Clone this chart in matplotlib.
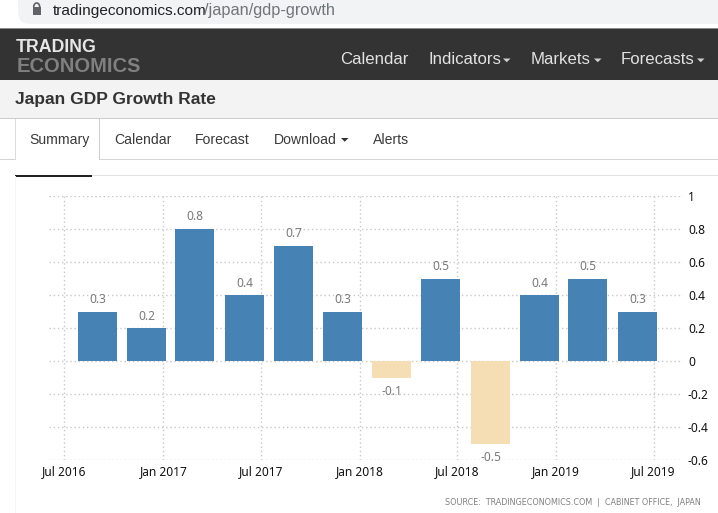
import matplotlib
matplotlib.use("Agg")
import matplotlib.pyplot as plt
import matplotlib.dates as mdates
from matplotlib.patches import Rectangle, FancyBboxPatch, Polygon, Arc
from datetime import date

W, H = 718, 513
quarters = [date(2016,9,1), date(2016,12,1), date(2017,3,1), date(2017,6,1),
            date(2017,9,1), date(2017,12,1), date(2018,3,1), date(2018,6,1),
            date(2018,9,1), date(2018,12,1), date(2019,3,1), date(2019,6,1)]
growth = [0.3, 0.2, 0.8, 0.4, 0.7, 0.3, -0.1, 0.5, -0.5, 0.4, 0.5, 0.3]
x_ticks = [date(2016,7,1), date(2017,1,1), date(2017,7,1), date(2018,1,1),
           date(2018,7,1), date(2019,1,1), date(2019,7,1)]
x_labels = ["Jul 2016", "Jan 2017", "Jul 2017", "Jan 2018", "Jul 2018", "Jan 2019", "Jul 2019"]
y_ticks = [-0.6, -0.4, -0.2, 0, 0.2, 0.4, 0.6, 0.8, 1]
y_labels = ["-0.6", "-0.4", "-0.2", "0", "0.2", "0.4", "0.6", "0.8", "1"]
nav_items = ["Calendar", "Indicators", "Markets", "Forecasts"]
tab_items = ["Summary", "Calendar", "Forecast", "Download", "Alerts"]

SANS = "Liberation Sans"
CHART = "Noto Sans"
fig = plt.figure(figsize=(W/100, H/100), dpi=100, facecolor="white")

# page chrome in pixel coordinates
bg = fig.add_axes([0, 0, 1, 1], zorder=0)
bg.set_xlim(0, W); bg.set_ylim(H, 0); bg.axis("off")
def rect(x, y, w, h, c):
    bg.add_patch(Rectangle((x, y), w, h, fc=c, ec="none"))
def txt(x, y, s, size, c, **k):
    bg.text(x, y, s, fontsize=size*0.72, color=c, va="baseline",
            family=k.pop("family", SANS), **k)
def caret(x, y, w, c):
    bg.add_patch(Polygon([(x, y), (x+w, y), (x+w/2, y+w/2)], fc=c, ec="none"))

bg.add_patch(FancyBboxPatch((18, -20), 800, 44, boxstyle="round,pad=0,rounding_size=12",
                            fc="#f1f3f4", ec="none"))
rect(32.5, 7, 8.5, 8, "#5f6368")
bg.add_patch(Arc((36.7, 7), 6, 8, theta1=180, theta2=360, ec="#5f6368", lw=1.2))
txt(52.5, 15, "tradingeconomics.com", 15.4, "#202124")
txt(204.5, 15, "/japan/gdp-growth", 16.4, "#70757a")
rect(0, 28, W, 52, "#333333")
rect(0, 28, W, 1, "#8a8a8a")
txt(15.5, 52.5, "TRADING", 17.7, "#e6e6e6", fontweight="bold")
txt(16.5, 72.5, "ECONOMICS", 20.2, "#808080", fontweight="bold")
for s, x in zip(nav_items, [340.5, 428.5, 531, 621]):
    txt(x, 64, s, 16.7, "#e2e2e2")
for x in [503, 594, 697]:
    caret(x, 58.5, 7.5, "#d0d0d0")
rect(0, 80, W, 38, "#f3f3f3")
rect(0, 118, W, 1.3, "#cccccc")
txt(15, 104, "Japan GDP Growth Rate", 17.4, "#333333", fontweight="bold")
rect(0, 159, W, 1.2, "#d5d5d5")
rect(15.5, 119, 84, 41.5, "white")
rect(15, 119, 1, 41, "#dddddd")
rect(99, 119, 1, 41, "#cccccc")
for s, x in zip(tab_items, [29.5, 114.5, 195, 273.5, 372.5]):
    txt(x, 144, s, 14, "#3a3a3a")
caret(341, 138, 7.5, "#333333")
rect(15, 175, W-15, 1, "#e2e2e2")
rect(15, 174.5, 77, 2, "#222222")
rect(14.5, 176, 1, H-176, "#f5f5f5")
txt(701, 505, "SOURCE:  TRADINGECONOMICS.COM  |  CABINET OFFICE,  JAPAN", 7.95, "#808080",
    ha="right", family="DejaVu Sans")

# chart
x0, x1 = 49, 683
ytop, ybot = 196.0, 460.2
ax = fig.add_axes([x0/W, 1-ybot/H, (x1-x0)/W, (ybot-ytop)/H], zorder=1)
ax.patch.set_alpha(0)
d0 = mdates.date2num(date(2016,7,1))
px_per_day = (653.5-64.5) / (mdates.date2num(date(2019,7,1)) - d0)
ax.set_xlim(d0 - (64.5-x0)/px_per_day, d0 + (x1-64.5)/px_per_day)
ax.set_ylim(-0.6, 1)
xs = mdates.date2num(quarters)
colors = ["#4682b4" if v >= 0 else "#f5deb3" for v in growth]
ax.bar(xs - 0.3/px_per_day, growth, width=39/px_per_day, color=colors, zorder=3)
for x, v in zip(xs, growth):
    ax.annotate(f"{v:g}", (x, v), xytext=(0, 4 if v >= 0 else -5), textcoords="offset points",
                ha="center", va="bottom" if v >= 0 else "top", fontsize=8.6, color="#7a7a7a",
                family=CHART, zorder=4)
ax.set_xticks(mdates.date2num(x_ticks), x_labels, family=CHART)
ax.set_yticks(y_ticks, y_labels, family=CHART)
ax.yaxis.tick_right()
ax.grid(True, color="#c8c8c8", linestyle=(0, (1, 2)), linewidth=1, zorder=0)
ax.tick_params(axis="x", length=0, pad=3.5, labelsize=8.6, labelcolor="#111111")
ax.tick_params(axis="y", length=0, pad=3.6, labelsize=8.6, labelcolor="#111111")
for s in ax.spines.values():
    s.set_visible(False)
fig.savefig("out.png", dpi=100)
